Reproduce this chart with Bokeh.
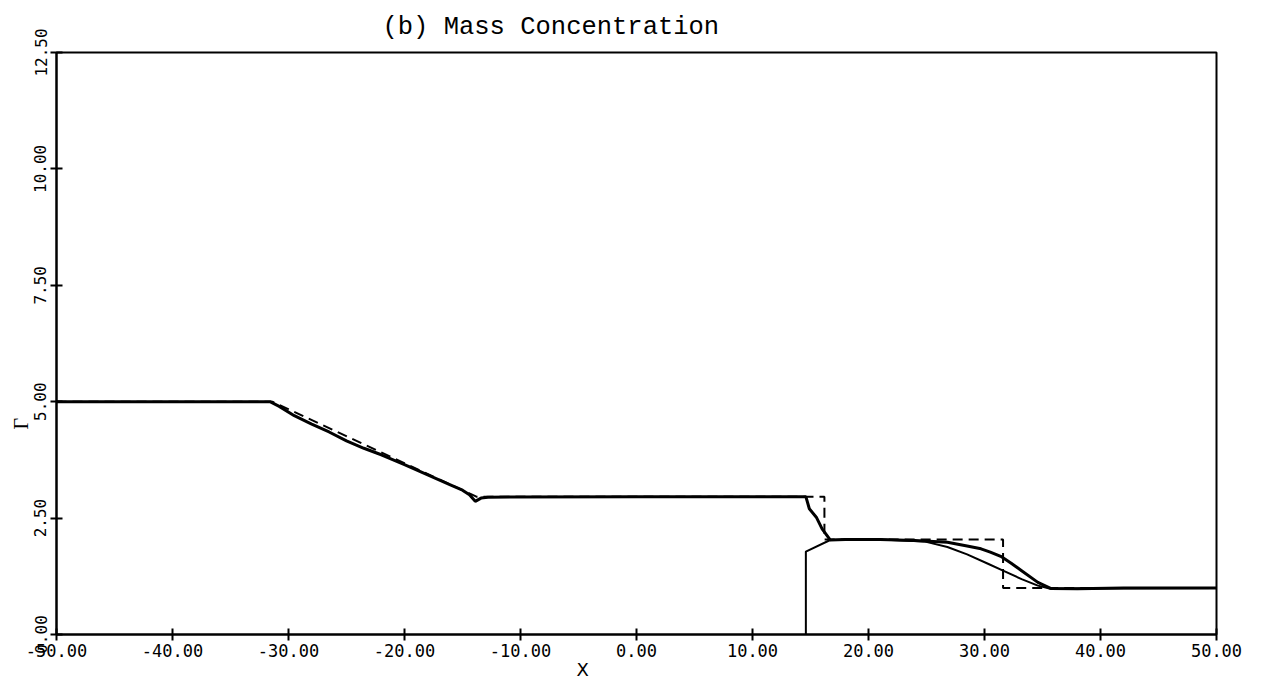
from bokeh.plotting import figure
from bokeh.models import Range1d, FixedTicker, PrintfTickFormatter, Title
from bokeh.embed import file_html
from bokeh.resources import INLINE

# ---- data ----
x_ticks = [-50, -40, -30, -20, -10, 0, 10, 20, 30, 40, 50]
y_ticks = [0.0, 2.5, 5.0, 7.5, 10.0, 12.5]

# exact solution (dashed)
exact_x = [-50.0, -31.4, -13.8, 16.2, 16.2, 31.6, 31.6, 50.0]
exact_g = [5.0, 5.0, 2.96, 2.96, 2.04, 2.04, 1.0, 1.0]

# numerical solution A (thick solid)
numA_x = [-50.0, -31.6, -30.8, -29.5, -28.0, -26.5, -25.0, -23.5, -22.0, -20.0,
          -18.0, -16.0, -15.0, -14.4, -13.9, -13.4, -12.8, 0.0, 10.0, 14.6,
          14.9, 15.5, 16.0, 16.7, 18.0, 21.0, 24.0, 26.8, 28.5, 29.7, 30.5,
          31.4, 32.3, 33.2, 34.6, 35.7, 38.0, 42.0, 50.0]
numA_g = [5.0, 5.0, 4.90, 4.70, 4.52, 4.35, 4.16, 4.00, 3.86, 3.65,
          3.43, 3.21, 3.10, 3.00, 2.86, 2.93, 2.95, 2.96, 2.96, 2.96,
          2.70, 2.52, 2.27, 2.03, 2.04, 2.04, 2.02, 1.98, 1.90, 1.84, 1.77,
          1.68, 1.53, 1.37, 1.12, 0.99, 0.98, 1.0, 1.0]

# numerical solution B (thin solid)
numB_x = [14.6, 14.6, 16.7, 20.0, 22.0, 24.8, 26.8, 28.5, 30.3, 31.6, 33.2,
          34.6, 35.6, 38.0, 50.0]
numB_g = [0.0, 1.78, 2.03, 2.04, 2.03, 2.0, 1.88, 1.72, 1.52, 1.37, 1.19,
          1.05, 0.99, 0.99, 1.0]

title_text = "(b) Mass Concentration"
x_label = "X"
y_label = "\u0393"

# ---- figure ----
p = figure(frame_width=1160, frame_height=582,
           x_range=Range1d(-50, 50), y_range=Range1d(0, 12.5),
           output_backend="svg", toolbar_location=None,
           min_border_left=56, min_border_top=52, min_border_right=40,
           min_border_bottom=45, background_fill_color="white",
           border_fill_color="white")

p.grid.visible = False
p.outline_line_color = "black"
p.outline_line_width = 2

label_font = "DejaVu Sans Mono"

xa = p.xaxis[0]
xa.ticker = FixedTicker(ticks=x_ticks)
xa.formatter = PrintfTickFormatter(format="%.2f")
xa.major_tick_in = 6
xa.major_tick_out = 6
xa.minor_tick_in = 0
xa.minor_tick_out = 0
xa.axis_line_width = 2
xa.major_tick_line_width = 2
xa.major_label_standoff = 3
xa.major_label_text_font = label_font
xa.major_label_text_font_size = "17px"
xa.major_label_text_color = "black"

ya = p.yaxis[0]
ya.ticker = FixedTicker(ticks=y_ticks)
ya.formatter = PrintfTickFormatter(format="%.2f")
ya.major_tick_in = 6
ya.major_tick_out = 6
ya.minor_tick_in = 0
ya.minor_tick_out = 0
ya.axis_line_width = 2
ya.major_tick_line_width = 2
ya.major_label_standoff = 4
ya.major_label_orientation = "vertical"
ya.major_label_text_font = label_font
ya.major_label_text_font_size = "16px"
ya.major_label_text_color = "black"

p.title = Title(text=title_text, align="left", offset=326,
                text_font="Liberation Mono", text_font_size="25.5px",
                text_font_style="normal", text_color="black", standoff=21)

p.add_layout(Title(text=x_label, align="left", offset=520,
                   text_font="DejaVu Sans", text_font_size="18px",
                   text_font_style="normal", text_color="black",
                   standoff=-6), "below")
p.add_layout(Title(text=y_label, align="left", offset=205,
                   text_font="Liberation Serif", text_font_size="20px",
                   text_font_style="normal", text_color="black",
                   standoff=0), "left")

# ---- curves ----
p.line(exact_x, exact_g, line_color="black", line_width=2, line_dash="10 6")
p.line(numA_x, numA_g, line_color="black", line_width=3)
p.line(numB_x, numB_g, line_color="black", line_width=2)

open("out.html", "w").write(file_html(p, INLINE))
